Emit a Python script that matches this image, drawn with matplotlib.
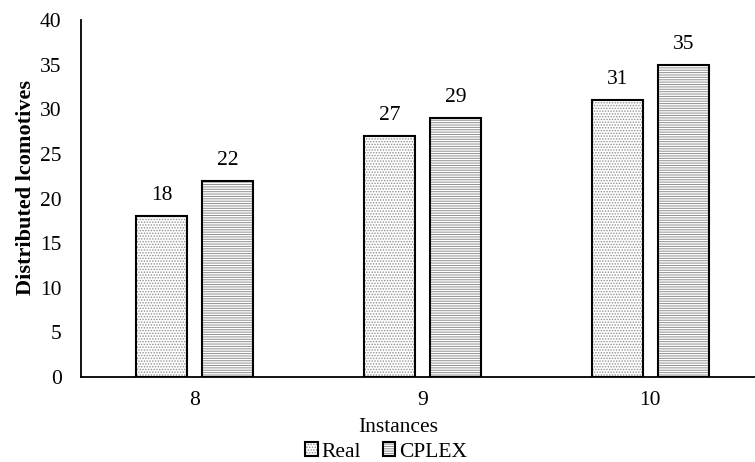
import numpy as np
import matplotlib
matplotlib.use('Agg')
import matplotlib.pyplot as plt

# Dữ liệu
instances = ['8', '9', '10']
real = [18, 27, 31]
cplex = [22, 29, 35]

plt.rcParams['font.family'] = ['Liberation Serif', 'DejaVu Serif']
plt.rcParams['hatch.linewidth'] = 0.7

fig = plt.figure(figsize=(7.55, 4.62), dpi=100)
W, H = 755, 462
ax = fig.add_axes([81 / W, 85 / H, (764 - 81) / W, 357 / H])

x = np.arange(len(instances))
bw = 0.225
off = 0.145

b1 = ax.bar(x - off, real, bw, color='white', edgecolor='black', linewidth=1.5,
            hatch='......', label='Real')
b2 = ax.bar(x + off, cplex, bw, color='white', edgecolor='black', linewidth=1.5,
            hatch='-------', label='CPLEX')
for bars in (b1, b2):
    for p in bars:
        p._hatch_color = matplotlib.colors.to_rgba('#909090')

for bars, vals in ((b1, real), (b2, cplex)):
    for p, v in zip(bars, vals):
        ax.annotate(str(v), (p.get_x() + p.get_width() / 2, v),
                    xytext=(0, 8), textcoords='offset points',
                    ha='center', va='bottom', fontsize=15.5)

ax.set_xlim(-0.5, 2.5)
ax.set_ylim(0, 40)
ax.set_yticks(range(0, 41, 5))
ax.set_xticks(x)
ax.set_xticklabels(instances)
ax.tick_params(axis='both', length=0, labelsize=15.5)
ax.tick_params(axis='y', pad=14)
ax.tick_params(axis='x', pad=10)
for s in ('top', 'right'):
    ax.spines[s].set_visible(False)
ax.spines['left'].set_linewidth(1.3)
ax.spines['bottom'].set_linewidth(1.3)

ax.set_ylabel('Distributed lcomotives', fontsize=16, fontweight='bold')
ax.yaxis.set_label_coords(-(81 - 36) / (764 - 81), 0.53)
fig.text(398 / W, 1 - 428 / H, 'Instances', ha='center', va='center', fontsize=15.5)

fig.legend(handles=[b1, b2], loc='center', bbox_to_anchor=(386 / W, 1 - 452 / H),
           ncol=2, frameon=False, fontsize=15.5, handlelength=0.6, handleheight=0.6,
           handletextpad=0.15, columnspacing=1.0, borderpad=0)

fig.savefig('out.png', dpi=100)
